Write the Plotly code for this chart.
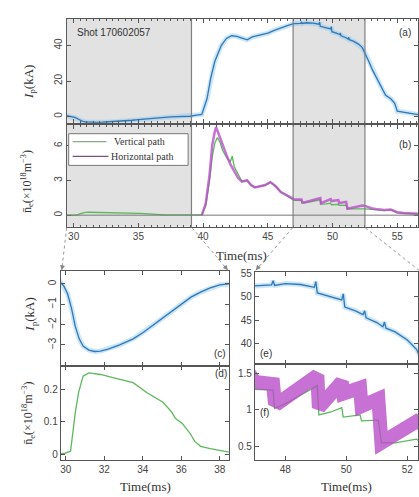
import plotly.graph_objects as go

# ---------------- data ----------------
t_ip = [29.4, 29.75, 29.9, 30.1, 30.3, 30.5, 30.7, 30.9, 31.2, 31.5, 31.8, 32.2, 32.8, 33.5, 34.0,
        34.5, 35.0, 35.5, 36.0, 36.5, 37.0, 37.5, 38.0, 38.5, 39.0, 39.5, 39.9,
        40.3, 40.6, 40.9, 41.1, 41.4, 41.8, 42.2, 42.6, 43.0, 43.4, 43.8, 44.2, 44.6, 45.0,
        45.5, 46.0, 46.5, 47.0, 47.3, 47.55, 47.6, 47.65, 48.0, 48.5, 48.95, 49.0, 49.05,
        49.5, 49.85, 49.9, 49.95, 50.3, 50.55, 50.6, 50.65, 51.0, 51.2, 51.25, 51.3, 51.6,
        52.0, 52.3, 52.5, 52.8, 53.1, 53.4, 53.8, 54.1, 54.5, 54.8, 55.0, 55.5, 56.0, 56.7]
ip = [0.6, 0.05, -0.1, -0.5, -1.2, -2.1, -2.7, -3.05, -3.25, -3.32, -3.3, -3.2, -3.0, -2.7, -2.4,
      -2.05, -1.7, -1.35, -1.0, -0.65, -0.4, -0.2, -0.05, 0.0, 0.2, 0.8, 1.2,
      10, 22, 31, 35, 40, 44, 45.5, 45.2, 44.2, 43.2, 44.8, 45.5, 46.2, 47.0,
      48.5, 50.0, 51.2, 52.3, 52.4, 52.5, 53.4, 52.4, 52.8, 52.6, 52.0, 53.2, 50.8,
      49.9, 49.3, 50.6, 47.8, 47.0, 46.2, 47.0, 45.5, 44.5, 43.6, 44.6, 43.3, 42.5,
      40.8, 38.8, 36.0, 31.0, 26.0, 22.0, 16.0, 12.0, 10.0, 7.5, 3.0, 2.5, 2.0, 1.0]

t_ne_v = [29.4, 29.9, 30.25, 30.5, 30.67, 30.9, 31.2, 31.8, 32.5, 33.5, 34.2, 35.05, 35.5, 35.7,
          36.05, 36.45, 36.7, 37.0, 37.5, 38.0, 38.5, 39.0, 39.5, 39.9,
          40.2, 40.5, 40.7, 40.9, 41.1, 41.3, 41.5, 41.8, 42.1, 42.25, 42.4, 42.7, 43.0, 43.4,
          43.7, 44.0, 44.4, 44.8, 45.2, 45.6, 46.0, 46.5, 47.0, 47.6, 47.65, 48.0, 48.5,
          49.05, 49.1, 49.5, 49.85, 49.9, 50.45, 50.5, 51.05, 51.15, 51.6, 52.0,
          52.3, 52.5, 53.0, 53.5, 54.0, 54.5, 55.0, 55.5, 56.7]
ne_v = [0.0, 0.003, 0.01, 0.13, 0.19, 0.24, 0.25, 0.245, 0.235, 0.22, 0.19, 0.16, 0.13, 0.11,
        0.095, 0.065, 0.04, 0.025, 0.018, 0.012, 0.007, 0.004, 0.0, 0.02,
        0.8, 3.0, 5.0, 6.2, 6.7, 6.3, 5.6, 5.0, 4.6, 5.1, 4.2, 3.5, 2.9, 3.0,
        2.6, 2.4, 2.5, 2.6, 2.85, 2.5, 2.0, 1.7, 1.28, 1.27, 1.02, 1.08, 1.2,
        1.33, 0.93, 0.97, 1.03, 0.9, 0.93, 0.85, 0.86, 0.55, 0.55, 0.58,
        0.6, 0.55, 0.5, 0.45, 0.4, 0.45, 0.2, 0.15, 0.1]

t_ne_h = [39.9, 40.2, 40.5, 40.7, 40.9, 41.0, 41.2, 41.5, 41.8, 42.1, 42.4, 42.7, 43.0, 43.4,
          43.7, 44.0, 44.4, 44.8, 45.2, 45.6, 46.0, 46.5, 47.0, 47.6, 47.65, 47.8, 48.4,
          49.05, 49.1, 49.85, 49.9, 50.45, 50.5, 51.05, 51.15, 52.3,
          52.5, 53.0, 53.5, 54.0, 54.5, 55.0, 55.5, 56.7]
ne_h = [0.0, 1.0, 3.5, 6.0, 7.2, 7.6, 7.0, 6.0, 5.2, 4.4, 3.8, 3.2, 2.9, 3.0,
        2.6, 2.4, 2.5, 2.6, 2.85, 2.5, 2.0, 1.7, 1.38, 1.35, 1.13, 1.1, 1.3,
        1.47, 1.03, 1.38, 1.22, 1.3, 1.05, 1.15, 0.55, 0.84,
        0.8, 0.6, 0.5, 0.45, 0.48, 0.25, 0.18, 0.12]

series_names = ["Vertical path", "Horizontal path"]

shade1 = [29.4, 39.1]
shade2 = [46.95, 52.5]

# ---------------- style ----------------
W, H = 419, 497
BLUE = "#2f77b6"
HALO = "rgba(140,200,240,0.45)"
GREEN = "#5cb85c"
PURPLE = "#b84ec8"
FRAME = "#555555"
TICKF = dict(family="Liberation Sans, Arial, sans-serif", size=10, color="#444")
SERIF = "Liberation Serif, Times New Roman, serif"


def px_x(p):
    return p / W


def px_y(p):
    return 1 - p / H


fig = go.Figure()

def add_ip(xa, ya, halo_w=5):
    fig.add_trace(go.Scatter(x=t_ip, y=ip, xaxis=xa, yaxis=ya, mode="lines",
                             line=dict(color=HALO, width=halo_w), showlegend=False, hoverinfo="skip"))
    fig.add_trace(go.Scatter(x=t_ip, y=ip, xaxis=xa, yaxis=ya, mode="lines",
                             line=dict(color=BLUE, width=1.3), showlegend=False))

def add_ne(xa, ya, pw):
    fig.add_trace(go.Scatter(x=t_ne_v, y=ne_v, xaxis=xa, yaxis=ya, mode="lines",
                             line=dict(color=GREEN, width=1.3), name=series_names[0],
                             showlegend=False))
    fig.add_trace(go.Scatter(x=t_ne_h, y=ne_h, xaxis=xa, yaxis=ya, mode="lines",
                             line=dict(color=PURPLE, width=pw), opacity=0.8,
                             name=series_names[1], showlegend=False))

add_ip("x", "y", 5)
add_ne("x2", "y2", 2.5)
add_ip("x3", "y3", 5)
add_ne("x4", "y4", 5)
add_ip("x5", "y5", 5)
add_ne("x6", "y6", 14)

common = dict(showline=True, linecolor=FRAME, linewidth=1, mirror="allticks",
              ticks="inside", ticklen=4, tickcolor=FRAME, tickfont=TICKF,
              showgrid=False, zeroline=False)

lay = dict(
    width=W, height=H, margin=dict(l=0, r=0, t=0, b=0),
    paper_bgcolor="white", plot_bgcolor="white", showlegend=False,
    xaxis=dict(domain=[px_x(66), 1], range=[29.46, 56.6], anchor="y", matches="x2",
               showticklabels=False, dtick=5, minor=dict(dtick=0.5, ticks="inside", ticklen=2,
               tickcolor=FRAME), **common),
    yaxis=dict(domain=[px_y(119), px_y(14)], range=[-3.5, 55], anchor="x",
               tickvals=[0, 20, 40], tickangle=-90, **common),
    xaxis2=dict(domain=[px_x(66), 1], range=[29.46, 56.6], anchor="y2",
                dtick=5, minor=dict(dtick=0.5, ticks="inside", ticklen=2, tickcolor=FRAME), **common),
    yaxis2=dict(domain=[px_y(224), px_y(121)], range=[-1.0, 7.8], anchor="x2",
                tickvals=[0, 3, 6], tickangle=-90, **common),
    xaxis3=dict(domain=[px_x(60), px_x(229)], range=[29.74, 38.47], anchor="y3",
                showticklabels=False, dtick=2, **common),
    yaxis3=dict(domain=[px_y(365), px_y(269)], range=[-4.05, 0.62], anchor="x3",
                tickvals=[0, -1, -2, -3], tickangle=-90, **common),
    xaxis4=dict(domain=[px_x(60), px_x(229)], range=[29.74, 38.47], anchor="y4",
                dtick=2, **common),
    yaxis4=dict(domain=[px_y(460), px_y(365)], range=[-0.018, 0.27], anchor="x4",
                tickvals=[0, 0.1, 0.2], **common),
    xaxis5=dict(domain=[px_x(255), 1], range=[47.0, 52.35], anchor="y5",
                showticklabels=False, dtick=2, **common),
    yaxis5=dict(domain=[px_y(363), px_y(270)], range=[35.6, 55.2], anchor="x5",
                tickvals=[40, 45, 50, 55], **common),
    xaxis6=dict(domain=[px_x(255), 1], range=[47.0, 52.35], anchor="y6",
                dtick=2, **common),
    yaxis6=dict(domain=[px_y(460), px_y(363)], range=[0.31, 1.62], anchor="x6",
                tickvals=[0.5, 1, 1.5], ticktext=["0.5", "1", "1.5"], **common),
)
fig.update_layout(**lay)

shapes = []
for xr, yr in (("x", "y domain"), ("x2", "y2 domain")):
    for s in (shade1, shade2):
        shapes.append(dict(type="rect", xref=xr, yref=yr, x0=s[0], x1=s[1], y0=0, y1=1,
                           fillcolor="#e2e2e2", line=dict(width=0), layer="below"))
        for xv in s:
            shapes.append(dict(type="line", xref=xr, yref=yr, x0=xv, x1=xv, y0=0, y1=1,
                               line=dict(color="#808080", width=1.2)))
shapes.append(dict(type="line", xref="x2 domain", yref="y2", x0=0, x1=1, y0=0, y1=0,
                   line=dict(color="#777", width=1)))
# zoom connector lines
for (xa, ya, xb, yb) in ((66, 225, 61, 268), (192, 225, 228, 268),
                         (293, 225, 256, 268), (366, 225, 425, 272)):
    shapes.append(dict(type="line", xref="paper", yref="paper",
                       x0=px_x(xa), y0=px_y(ya), x1=px_x(xb), y1=px_y(yb),
                       line=dict(color="#999", width=1, dash="dot")))
# legend box drawn by hand (panel b)
shapes.append(dict(type="rect", xref="paper", yref="paper", x0=px_x(68), x1=px_x(188),
                   y0=px_y(162), y1=px_y(130), fillcolor="white",
                   line=dict(color="#777", width=1)))
shapes.append(dict(type="line", xref="paper", yref="paper", x0=px_x(72), x1=px_x(106),
                   y0=px_y(138), y1=px_y(138), line=dict(color="#8aa88a", width=1.2)))
shapes.append(dict(type="line", xref="paper", yref="paper", x0=px_x(72), x1=px_x(108),
                   y0=px_y(153), y1=px_y(153), line=dict(color="#7a4f82", width=1.2)))
fig.update_layout(shapes=shapes)

ann = []
def txt(x, y, s, size=10, fam=TICKF["family"], angle=0, xanchor="center", color="#333"):
    ann.append(dict(x=px_x(x), y=px_y(y), xref="paper", yref="paper", text=s, showarrow=False,
                    textangle=angle, xanchor=xanchor, yanchor="middle",
                    font=dict(family=fam, size=size, color=color)))

txt(74, 28, "Shot 170602057", 10, xanchor="left")
txt(406, 28, "(a)", 10)
txt(406, 141, "(b)", 10)
txt(220, 352, "(c)", 10)
txt(221, 372, "(d)", 10)
txt(266, 352, "(e)", 10)
txt(265, 412, "(f)", 10)
txt(112, 138, series_names[0], 10, SERIF, xanchor="left")
txt(109, 153, series_names[1], 10, SERIF, xanchor="left")
txt(28, 78, "<i>I</i><sub>p</sub>(kA)", 13, SERIF, -90)
txt(26, 178, "n̄<sub>e</sub>(×10<sup>18</sup>m<sup>−3</sup>)", 12, SERIF, -90)
txt(30, 313, "<i>I</i><sub>p</sub>(kA)", 13, SERIF, -90)
txt(28, 412, "n̄<sub>e</sub>(×10<sup>18</sup>m<sup>−3</sup>)", 12, SERIF, -90)
txt(242, 253, "Time(ms)", 13, SERIF)
txt(145, 486, "Time(ms)", 13, SERIF)
txt(347, 486, "Time(ms)", 13, SERIF)
# arrowheads of connectors
for (xb, yb, dx, dy) in ((61, 268, 1, -6), (228, 268, -5, -6), (256, 268, 5, -6)):
    ann.append(dict(x=px_x(xb), y=px_y(yb), xref="paper", yref="paper", text="",
                    showarrow=True, ax=dx, ay=dy, arrowhead=2, arrowsize=1, arrowwidth=1,
                    arrowcolor="#888"))
fig.update_layout(annotations=ann)

fig.write_html("out.html", config={"displayModeBar": False},
               post_script="document.body.style.margin='0';document.body.style.overflow='hidden';")
